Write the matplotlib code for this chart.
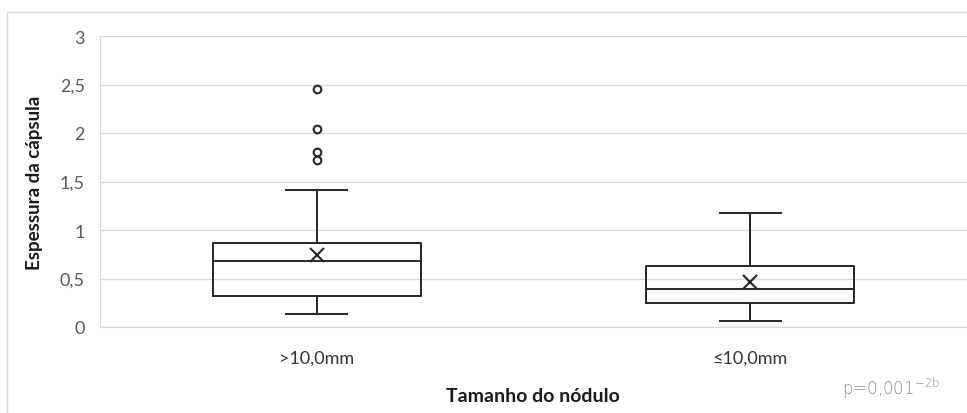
import matplotlib
matplotlib.use("Agg")
import matplotlib.pyplot as plt
from matplotlib.patches import Rectangle

categories = [">10,0mm", "≤10,0mm"]
whisker_low = [0.135, 0.06]
q1 = [0.32, 0.25]
median = [0.68, 0.39]
q3 = [0.865, 0.625]
whisker_high = [1.41, 1.18]
means = [0.745, 0.46]
outliers = [[2.45, 2.04, 1.80, 1.72], []]
y_ticks = [0, 0.5, 1, 1.5, 2, 2.5, 3]
y_tick_labels = ["0", "0,5", "1", "1,5", "2", "2,5", "3"]

plt.rcParams['font.family'] = ['Lato', 'DejaVu Sans']

fig = plt.figure(figsize=(9.67, 4.14), dpi=100)
W, H = 967, 414
ax = fig.add_axes([100 / W, 86 / H, 867 / W, 291 / H])

# outer frame
fig.patches.append(Rectangle((7 / W, -0.1), 1.2, (414 - 13) / H + 0.1,
                             transform=fig.transFigure, fill=False,
                             edgecolor="#d9d9d9", linewidth=1.0))

stats = []
for i in range(len(categories)):
    stats.append(dict(med=median[i], q1=q1[i], q3=q3[i], whislo=whisker_low[i],
                      whishi=whisker_high[i], mean=means[i], fliers=outliers[i],
                      label=categories[i]))

lw = 1.4
ax.bxp(stats, positions=[0, 1], widths=0.48, showmeans=True, patch_artist=False,
       boxprops=dict(color="#262626", linewidth=lw),
       medianprops=dict(color="#262626", linewidth=lw),
       whiskerprops=dict(color="#262626", linewidth=lw),
       capprops=dict(color="#262626", linewidth=lw),
       capwidths=0.14,
       meanprops=dict(marker="x", markeredgecolor="#262626", markersize=10, markeredgewidth=1.5),
       flierprops=dict(marker="o", markerfacecolor="white", markeredgecolor="#262626",
                       markersize=5.5, markeredgewidth=1.5))

ax.set_xlim(-0.5, 1.5)
ax.set_ylim(0, 3)
ax.set_yticks(y_ticks)
ax.set_yticklabels(y_tick_labels)
ax.yaxis.grid(True, color="#d9d9d9", linewidth=1.0)
ax.set_axisbelow(True)
for s in ["top", "right"]:
    ax.spines[s].set_visible(False)
ax.spines["left"].set_color("#d9d9d9")
ax.spines["bottom"].set_color("#d9d9d9")
ax.tick_params(axis="both", length=0)
ax.tick_params(axis="y", labelsize=13, labelcolor="#595959", pad=11)
ax.tick_params(axis="x", labelsize=13, labelcolor="#333333", pad=16)
ax.set_xticks([0, 1])
ax.set_xticklabels(categories)

ax.set_ylabel("Espessura da cápsula", fontsize=13.5, fontweight="bold", color="#1a1a1a")
ax.yaxis.set_label_coords(-57 / 867, 0.5)
fig.text(533 / W, 1 - 397 / H, "Tamanho do nódulo", fontsize=14, fontweight="bold",
         color="#1a1a1a", ha="center", va="center")
fig.text(842 / W, 1 - 388 / H, r"p=0,001$^{\mathregular{-2b}}$", fontsize=12, color="#8c8c8c",
         ha="left", va="center", family="DejaVu Sans", fontweight="light")

fig.savefig("out.png", dpi=100)
